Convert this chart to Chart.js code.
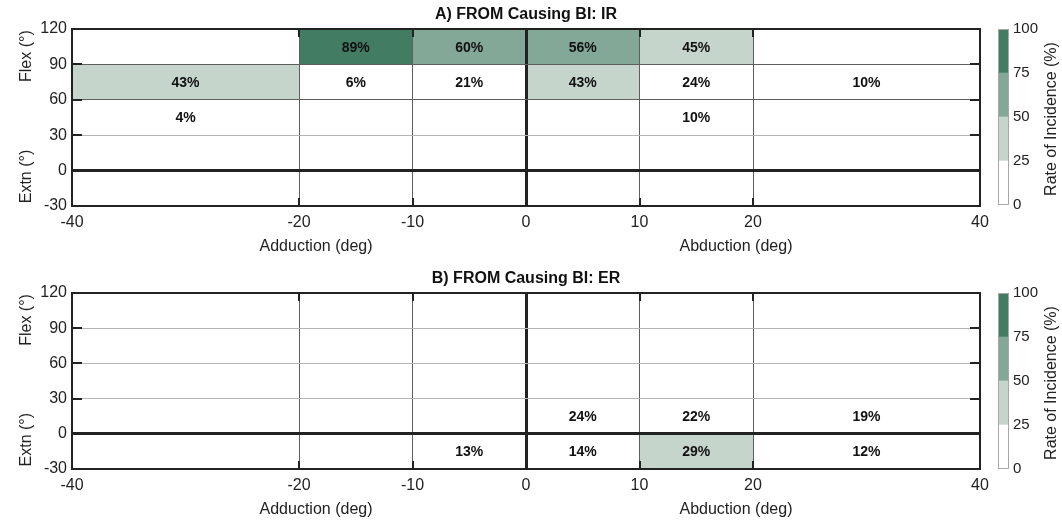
<!DOCTYPE html>
<html>
<head>
<meta charset="utf-8">
<script src="https://cdn.jsdelivr.net/npm/chart.js@4/dist/chart.umd.min.js"></script>
<style>
  html, body { margin: 0; padding: 0; background: #ffffff; }
  #wrap { position: relative; width: 1062px; height: 523px; overflow: hidden; }
  canvas { position: absolute; display: block; }
</style>
</head>
<body>
<div id="wrap">
  <canvas id="mapA" width="1062" height="262" style="left:0;top:0"></canvas>
  <canvas id="mapB" width="1062" height="261" style="left:0;top:262px"></canvas>
  <canvas id="barA" width="72" height="262" style="left:990px;top:0"></canvas>
  <canvas id="barB" width="72" height="261" style="left:990px;top:262px"></canvas>
</div>
<script>
// Cell boundaries (degrees)
const xEdges = [-40, -20, -10, 0, 10, 20, 40];      // adduction (−) / abduction (+)
const yEdges = [120, 90, 60, 30, 0, -30];           // row edges, flexion at top down to extension
const xTickValues = [-40, -20, -10, 0, 10, 20, 40];
const yTickValues = [-30, 0, 30, 60, 90, 120];

// Colour classes of the rate of incidence
const rateEdges = [0, 25, 50, 75, 100];
const rateColors = ['#ffffff', '#c5d5cc', '#84a898', '#427c62'];

// Rate of incidence (%) per cell; rows follow yEdges, columns follow xEdges
const irRates = [
  [null, 89, 60, 56, 45, null],
  [43, 6, 21, 43, 24, 10],
  [4, null, null, null, 10, null],
  [null, null, null, null, null, null],
  [null, null, null, null, null, null]
];
const erRates = [
  [null, null, null, null, null, null],
  [null, null, null, null, null, null],
  [null, null, null, null, null, null],
  [null, null, null, 24, 22, 19],
  [null, null, 13, 14, 29, 12]
];

const panelTitles = ['A) FROM Causing BI: IR', 'B) FROM Causing BI: ER'];
const yAxisNames = ['Flex (°)', 'Extn (°)'];
const xAxisNames = ['Adduction (deg)', 'Abduction (deg)'];
const colorbarName = 'Rate of Incidence (%)';

Chart.defaults.font.family = '"Liberation Sans", Arial, Helvetica, sans-serif';
Chart.defaults.color = '#222';

function rateColor(v) {
  for (let i = rateColors.length - 1; i >= 0; i--) {
    if (v >= rateEdges[i]) return rateColors[i];
  }
  return rateColors[0];
}

// one filled band per cell: top edge as a line, filled down to the row's lower edge
function cellDatasets(rates) {
  const sets = [];
  rates.forEach((row, r) => {
    const yTop = yEdges[r], yBot = yEdges[r + 1];
    row.forEach((v, c) => {
      if (v === null) return;
      sets.push({
        data: [{ x: xEdges[c], y: yTop }, { x: xEdges[c + 1], y: yTop }],
        fill: { value: yBot },
        backgroundColor: rateColor(v),
        borderWidth: 0,
        pointRadius: 0,
        tension: 0,
        rate: v,
        cell: { x0: xEdges[c], x1: xEdges[c + 1], y0: yBot, y1: yTop }
      });
    });
  });
  return sets;
}

const cellLabels = {
  id: 'cellLabels',
  afterDatasetsDraw(chart) {
    const { ctx, scales: { x, y } } = chart;
    ctx.save();
    ctx.font = 'bold 14px "Liberation Sans", Arial, sans-serif';
    ctx.fillStyle = '#111';
    ctx.textAlign = 'center';
    ctx.textBaseline = 'middle';
    chart.data.datasets.forEach(ds => {
      const c = ds.cell;
      const px = x.getPixelForValue((c.x0 + c.x1) / 2);
      const py = y.getPixelForValue((c.y0 + c.y1) / 2);
      ctx.fillText(ds.rate + '%', px, py + 1);
    });
    ctx.restore();
  }
};

// frame, inward tick marks on all four sides, titles
const frameAndText = {
  id: 'frameAndText',
  afterDraw(chart, args, opts) {
    const { ctx, chartArea: a, scales: { x, y } } = chart;
    ctx.save();
    ctx.strokeStyle = '#222';
    ctx.lineWidth = 2;
    ctx.beginPath();
    yTickValues.slice(1, -1).forEach(v => {
      const py = Math.round(y.getPixelForValue(v));
      ctx.moveTo(a.left, py); ctx.lineTo(a.left + 10, py);
      ctx.moveTo(a.right, py); ctx.lineTo(a.right - 10, py);
    });
    xTickValues.slice(1, -1).forEach(v => {
      const px = Math.round(x.getPixelForValue(v));
      ctx.moveTo(px, a.top); ctx.lineTo(px, a.top + 8);
      ctx.moveTo(px, a.bottom); ctx.lineTo(px, a.bottom - 8);
    });
    ctx.stroke();
    ctx.strokeRect(a.left, a.top, a.right - a.left, a.bottom - a.top);

    ctx.fillStyle = '#111';
    ctx.textAlign = 'center';
    ctx.textBaseline = 'middle';
    ctx.font = 'bold 16px "Liberation Sans", Arial, sans-serif';
    ctx.fillText(opts.title, x.getPixelForValue(0), a.top - 14);

    ctx.fillStyle = '#222';
    ctx.font = '16px "Liberation Sans", Arial, sans-serif';
    ctx.fillText(xAxisNames[0], x.getPixelForValue(-18.5), a.bottom + 41);
    ctx.fillText(xAxisNames[1], x.getPixelForValue(18.5), a.bottom + 41);

    [[yAxisNames[0], 97], [yAxisNames[1], -5]].forEach(([t, v]) => {
      ctx.save();
      ctx.translate(27, y.getPixelForValue(v));
      ctx.rotate(-Math.PI / 2);
      ctx.fillText(t, 0, 0);
      ctx.restore();
    });
    ctx.restore();
  }
};

function makeMap(id, rates, title, darkRows, padTop, axisHeight) {
  new Chart(document.getElementById(id), {
    type: 'line',
    data: { datasets: cellDatasets(rates) },
    plugins: [cellLabels, frameAndText],
    options: {
      responsive: false,
      animation: false,
      events: [],
      layout: { autoPadding: false, padding: { left: 0, right: 82, top: padTop, bottom: 0 } },
      plugins: {
        legend: { display: false },
        tooltip: { enabled: false },
        frameAndText: { title: title }
      },
      scales: {
        x: {
          type: 'linear', min: -40, max: 40,
          afterBuildTicks: s => { s.ticks = xTickValues.map(v => ({ value: v })); },
          afterFit: s => { s.height = axisHeight; },
          ticks: { autoSkip: false, maxRotation: 0, padding: 7, font: { size: 16 }, color: '#222' },
          grid: {
            z: 1,
            drawTicks: false,
            color: c => (c.tick && c.tick.value === 0) ? '#222' : '#5e5e5e',
            lineWidth: c => (c.tick && c.tick.value === 0) ? 3 : 1
          },
          border: { display: false }
        },
        y: {
          type: 'linear', min: -30, max: 120,
          afterBuildTicks: s => { s.ticks = yTickValues.map(v => ({ value: v })); },
          afterFit: s => { s.width = 72; },
          ticks: { padding: 5, font: { size: 16 }, color: '#222' },
          grid: {
            z: 1,
            drawTicks: false,
            color: c => {
              const v = c.tick ? c.tick.value : null;
              if (v === 0) return '#222';
              return darkRows.includes(v) ? '#5e5e5e' : '#b4b4b4';
            },
            lineWidth: c => (c.tick && c.tick.value === 0) ? 3 : 1
          },
          border: { display: false }
        }
      }
    }
  });
}

const colorbarDecor = {
  id: 'colorbarDecor',
  afterDraw(chart) {
    const { ctx, chartArea: a } = chart;
    ctx.save();
    ctx.strokeStyle = '#a8a8a8';
    ctx.lineWidth = 1;
    ctx.strokeRect(a.left + 0.5, a.top + 0.5, a.right - a.left - 1, a.bottom - a.top - 1);
    ctx.fillStyle = '#222';
    ctx.font = '16px "Liberation Sans", Arial, sans-serif';
    ctx.textAlign = 'center';
    ctx.textBaseline = 'middle';
    ctx.translate(62, (a.top + a.bottom) / 2 + 2);
    ctx.rotate(-Math.PI / 2);
    ctx.fillText(colorbarName, 0, 0);
    ctx.restore();
  }
};

function makeColorbar(id, padTop, padBottom) {
  new Chart(document.getElementById(id), {
    type: 'bar',
    data: {
      labels: [''],
      datasets: rateColors.map((c, i) => ({
        data: [rateEdges[i + 1] - rateEdges[i]],
        backgroundColor: c,
        borderWidth: 0,
        barPercentage: 1,
        categoryPercentage: 1
      }))
    },
    plugins: [colorbarDecor],
    options: {
      responsive: false,
      animation: false,
      events: [],
      layout: { autoPadding: false, padding: { left: 8, right: 0, top: padTop, bottom: padBottom } },
      plugins: { legend: { display: false }, tooltip: { enabled: false } },
      scales: {
        x: { stacked: true, display: false },
        y: {
          stacked: true, position: 'right', min: 0, max: 100,
          afterBuildTicks: s => { s.ticks = rateEdges.map(v => ({ value: v })); },
          afterFit: s => { s.width = 53; },
          ticks: { padding: 4, font: { size: 15 }, color: '#222' },
          grid: { display: false, drawTicks: false },
          border: { display: false }
        }
      }
    }
  });
}

makeMap('mapA', irRates, panelTitles[0], [60, 90], 29, 56);
makeMap('mapB', erRates, panelTitles[1], [], 31, 54);
makeColorbar('barA', 29, 57);
makeColorbar('barB', 31, 54);
</script>
</body>
</html>
